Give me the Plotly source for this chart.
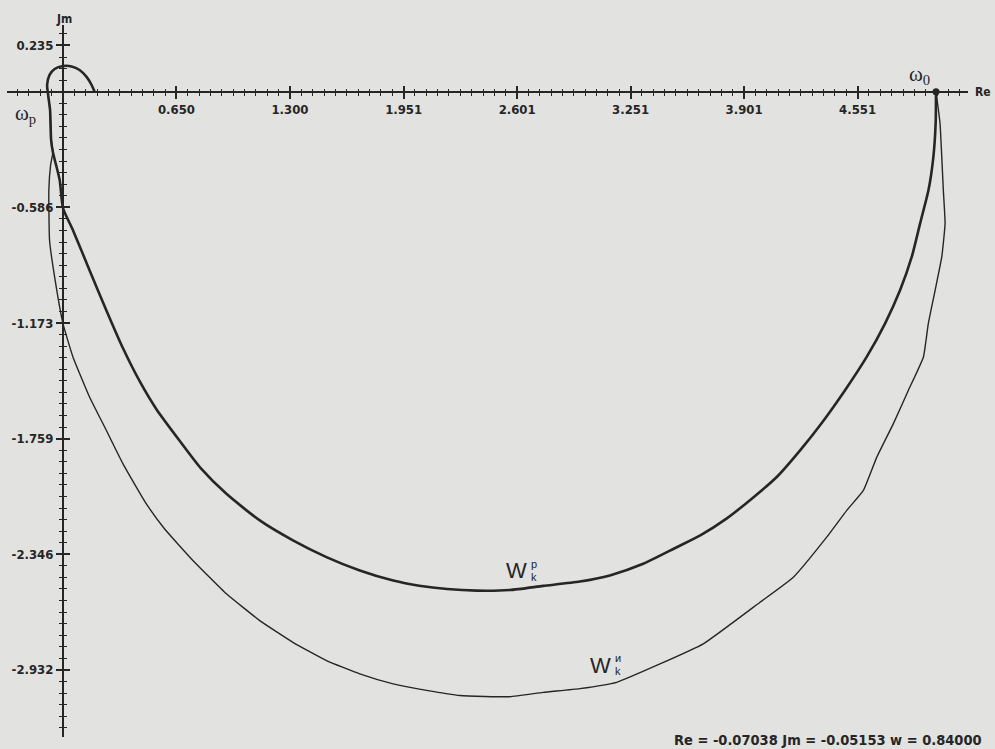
import plotly.graph_objects as go

# ---------------- data ----------------
# W_k^p  (thick curve), from omega_0 around to omega_p and the small loop
re_p = [5.000, 4.998, 4.985, 4.957, 4.909, 4.861, 4.794, 4.708, 4.603, 4.479, 4.350,
        4.230, 4.088, 3.950, 3.800, 3.650, 3.515, 3.323, 3.132, 2.960, 2.750,
        2.559, 2.369, 2.200, 2.040, 1.891, 1.700, 1.509, 1.317, 1.127, 0.936,
        0.790, 0.668, 0.535, 0.439, 0.343, 0.248, 0.152, 0.057, 0.000, -0.019,
        -0.058, -0.068, -0.074, -0.085, -0.091, -0.077, -0.048, 0.000, 0.049,
        0.095, 0.135, 0.164, 0.181]
im_p = [0.000, -0.160, -0.330, -0.499, -0.668, -0.838, -1.007, -1.176, -1.345, -1.514, -1.675,
        -1.810, -1.954, -2.060, -2.165, -2.250, -2.310, -2.394, -2.453, -2.484, -2.506,
        -2.527, -2.530, -2.522, -2.505, -2.479, -2.428, -2.360, -2.275, -2.174, -2.039,
        -1.910, -1.770, -1.610, -1.468, -1.300, -1.108, -0.905, -0.702, -0.590, -0.448,
        -0.306, -0.245, -0.093, -0.017, 0.034, 0.085, 0.115, 0.130, 0.128,
        0.110, 0.075, 0.034, 0.000]

# W_k^и  (thin curve)
re_i = [5.000, 5.023, 5.033, 5.042, 5.052, 5.033, 4.995, 4.956, 4.928, 4.842, 4.756,
        4.661, 4.584, 4.489, 4.374, 4.183, 3.992, 3.667, 3.419, 3.171, 2.960,
        2.750, 2.559, 2.273, 2.082, 1.891, 1.700, 1.509, 1.317, 1.127, 0.936,
        0.744, 0.580, 0.470, 0.343, 0.248, 0.152, 0.057, 0.000, -0.048, -0.077,
        -0.081, -0.071, -0.058, -0.068, -0.074, -0.085]
im_i = [0.000, -0.160, -0.330, -0.499, -0.668, -0.838, -1.007, -1.176, -1.345, -1.514, -1.683,
        -1.853, -2.022, -2.123, -2.259, -2.462, -2.589, -2.800, -2.902, -2.995, -3.027,
        -3.046, -3.068, -3.062, -3.036, -3.003, -2.952, -2.885, -2.792, -2.682, -2.546,
        -2.377, -2.215, -2.080, -1.886, -1.717, -1.548, -1.345, -1.176, -0.939, -0.753,
        -0.499, -0.372, -0.306, -0.245, -0.093, -0.017]

# point omega_0
omega0_re = [5.0]
omega0_im = [0.0]

# axis ticks
x_tickvals = [0.650, 1.300, 1.951, 2.601, 3.251, 3.901, 4.551]
x_ticktext = ["0.650", "1.300", "1.951", "2.601", "3.251", "3.901", "4.551"]
x_minor_step = 0.065016
y_tickvals = [0.235, -0.586, -1.173, -1.759, -2.346, -2.932]
y_ticktext = ["0.235", "-0.586", "-1.173", "-1.759", "-2.346", "-2.932"]
y_minor_step = 0.058645

status_text = "Re = -0.07038 Jm = -0.05153 w = 0.84000"

# ---------------- figure ----------------
W, H = 995, 749
ink = "#262626"
bg = "#e2e2e0"
tickfam = "DejaVu Sans Condensed, Liberation Sans Narrow, DejaVu Sans, sans-serif"

x_range = [-0.3207, 5.1833]
y_range = [-3.2723, 0.3382]
x_dom = [7 / W, 968 / W]
y_dom = [1 - 737 / H, 1 - 25 / H]
x_axis_pos = 1 - 91.7 / H
y_axis_pos = 63 / W

fig = go.Figure()

fig.add_trace(go.Scatter(x=re_i, y=im_i, mode="lines",
                         line=dict(color=ink, width=1.4, shape="spline", smoothing=0.4),
                         showlegend=False, hoverinfo="skip"))
fig.add_trace(go.Scatter(x=re_p, y=im_p, mode="lines",
                         line=dict(color=ink, width=2.6, shape="spline", smoothing=0.6),
                         showlegend=False, hoverinfo="skip"))
fig.add_trace(go.Scatter(x=omega0_re, y=omega0_im, mode="markers",
                         marker=dict(color=ink, size=7),
                         showlegend=False, hoverinfo="skip", cliponaxis=False))
# dummy trace for the overlay axes (inside half of the ticks)
fig.add_trace(go.Scatter(x=[None], y=[None], xaxis="x2", yaxis="y2",
                         showlegend=False, hoverinfo="skip"))

common_x = dict(range=x_range, domain=x_dom, anchor="free", position=x_axis_pos,
                showgrid=False, zeroline=False, tickmode="array",
                tickvals=x_tickvals, tickwidth=1.5, tickcolor=ink, ticklen=6)
common_y = dict(range=y_range, domain=y_dom, anchor="free", position=y_axis_pos,
                showgrid=False, zeroline=False, tickmode="array",
                tickvals=y_tickvals, tickwidth=1.5, tickcolor=ink, ticklen=6)

tickfont = dict(family=tickfam, size=13, color=ink, weight="bold")

fig.update_layout(
    width=W, height=H,
    margin=dict(l=0, r=0, t=0, b=0),
    paper_bgcolor=bg, plot_bgcolor=bg,
    xaxis=dict(**common_x, ticks="outside", ticktext=x_ticktext,
               showline=True, linecolor=ink, linewidth=2, tickfont=tickfont,
               minor=dict(ticks="outside", tickmode="linear", tick0=0, dtick=x_minor_step,
                          ticklen=3, tickwidth=1.2, tickcolor=ink, showgrid=False)),
    yaxis=dict(**common_y, ticks="outside", ticktext=y_ticktext,
               showline=True, linecolor=ink, linewidth=2, tickfont=tickfont,
               minor=dict(ticks="outside", tickmode="linear", tick0=0, dtick=y_minor_step,
                          ticklen=3, tickwidth=1.2, tickcolor=ink, showgrid=False)),
    xaxis2=dict(**common_x, overlaying="x", ticks="inside", showticklabels=False,
                showline=False,
                minor=dict(ticks="inside", tickmode="linear", tick0=0, dtick=x_minor_step,
                           ticklen=3, tickwidth=1.2, tickcolor=ink, showgrid=False)),
    yaxis2=dict(**common_y, overlaying="y", ticks="inside", showticklabels=False,
                showline=False,
                minor=dict(ticks="inside", tickmode="linear", tick0=0, dtick=y_minor_step,
                           ticklen=3, tickwidth=1.2, tickcolor=ink, showgrid=False)),
)

ann = []
boldf = dict(family=tickfam, size=12, color=ink, weight="bold")
# axis names
ann.append(dict(x=64 / W, y=1 - 19 / H, xref="paper", yref="paper", text="Jm",
                showarrow=False, font=boldf, xanchor="center", yanchor="middle"))
ann.append(dict(x=973 / W, y=1 - 92 / H, xref="paper", yref="paper", text="Re",
                showarrow=False, font=boldf, xanchor="left", yanchor="middle"))
# omega labels
serif = "Liberation Serif, DejaVu Serif, serif"
ann.append(dict(x=4.908, y=0.085, text="ω<sub>0</sub>", showarrow=False,
                font=dict(family=serif, size=21, color=ink), xanchor="center", yanchor="middle"))
ann.append(dict(x=-0.215, y=-0.115, text="ω<sub>p</sub>", showarrow=False,
                font=dict(family=serif, size=21, color=ink), xanchor="center", yanchor="middle"))
# curve labels
sansf = dict(family="Liberation Sans, Arial, sans-serif", size=22, color=ink)
smallf = dict(family="Liberation Sans, Arial, sans-serif", size=11, color=ink)
ann.append(dict(x=2.600, y=-2.430, text="W", showarrow=False, font=sansf,
                xanchor="center", yanchor="middle"))
ann.append(dict(x=2.695, y=-2.395, text="p", showarrow=False, font=smallf,
                xanchor="center", yanchor="middle"))
ann.append(dict(x=2.695, y=-2.462, text="k", showarrow=False, font=smallf,
                xanchor="center", yanchor="middle"))
ann.append(dict(x=3.076, y=-2.912, text="W", showarrow=False, font=sansf,
                xanchor="center", yanchor="middle"))
ann.append(dict(x=3.176, y=-2.870, text="и", showarrow=False, font=smallf,
                xanchor="center", yanchor="middle"))
ann.append(dict(x=3.176, y=-2.940, text="k", showarrow=False, font=smallf,
                xanchor="center", yanchor="middle"))
# status line
ann.append(dict(x=984 / W, y=1 - 740 / H, xref="paper", yref="paper", text=status_text,
                showarrow=False, font=dict(family=tickfam, size=14.5, color=ink, weight="bold"),
                xanchor="right", yanchor="middle"))

fig.update_layout(annotations=ann)

fig.write_html("out.html",
               config={"displayModeBar": False},
               post_script="document.body.style.margin='0px';"
                           "document.body.style.overflow='hidden';")
